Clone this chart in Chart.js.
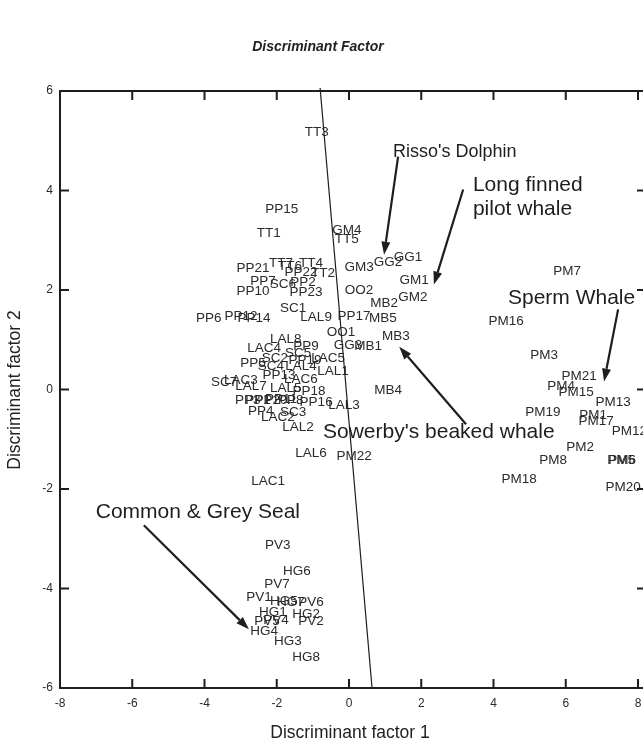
<!DOCTYPE html>
<html>
<head>
<meta charset="utf-8">
<script src="https://cdn.jsdelivr.net/npm/chart.js"></script>
<style>
html, body { margin: 0; padding: 0; background: #fff; }
</style>
</head>
<body>
<canvas id="discChart" width="643" height="744"></canvas>
<script>
// small cetaceans: porpoise, bottlenose, striped/common dolphins, white-sided/beaked
const smallNames = ['PP1','PP2','PP3','PP4','PP5','PP6','PP7','PP8','PP9','PP10','PP11','PP12','PP13','PP14','PP15','PP16','PP17','PP18','PP19','PP20','PP21','PP22','PP23',
  'TT1','TT2','TT3','TT4','TT5','TT6','TT7',
  'SC1','SC2','SC3','SC4','SC5','SC6','SC7',
  'LAL1','LAL2','LAL3','LAL4','LAL5','LAL6','LAL7','LAL8','LAL9',
  'LAC1','LAC2','LAC3','LAC4','LAC5','LAC6'];
const smallX = [-2.52,-1.27,-2.80,-2.44,-2.66,-3.88,-2.38,-1.61,-1.19,-2.66,-1.88,-2.99,-1.94,-2.63,-1.86,-0.91,0.14,-1.11,-1.22,-2.16,-2.66,-1.33,-1.19,
  -2.22,-0.72,-0.89,-1.05,-0.06,-1.63,-1.88,
  -1.55,-2.05,-1.55,-2.16,-1.41,-1.83,-3.46,
  -0.44,-1.41,-0.14,-1.33,-1.75,-1.05,-2.71,-1.75,-0.91,
  -2.24,-1.97,-2.99,-2.35,-0.58,-1.33];
const smallY = [-0.22,2.15,-0.22,-0.44,0.52,1.43,2.17,-0.22,0.86,1.97,-0.20,1.47,0.28,1.43,3.63,-0.26,1.47,-0.04,0.58,-0.22,2.43,2.35,1.95,
  3.15,2.33,5.18,2.53,3.01,2.47,2.53,
  1.63,0.62,-0.46,0.46,0.72,2.11,0.14,
  0.36,-0.76,-0.32,0.46,0.02,-1.29,0.06,1.00,1.45,
  -1.85,-0.56,0.18,0.82,0.62,0.20];

// pilot whales, Risso's dolphins, orcas, Sowerby's beaked whales
const midNames = ['GM1','GM2','GM3','GM4','GG1','GG2','GG3','OO1','OO2','MB1','MB2','MB3','MB4','MB5'];
const midX = [1.80,1.77,0.28,-0.06,1.63,1.08,-0.03,-0.22,0.28,0.53,0.97,1.30,1.08,0.94];
const midY = [2.19,1.85,2.45,3.21,2.65,2.55,0.88,1.16,1.99,0.86,1.73,1.06,-0.02,1.43];

// sperm whales
const spermNames = ['PM1','PM2','PM3','PM4','PM5','PM6','PM7','PM8','PM12','PM13','PM15','PM16','PM17','PM18','PM19','PM20','PM21','PM22'];
const spermX = [6.76,6.40,5.40,5.87,7.53,7.56,6.04,5.65,7.76,7.31,6.29,4.35,6.84,4.71,5.37,7.59,6.37,0.14];
const spermY = [-0.52,-1.16,0.68,0.06,-1.43,-1.43,2.37,-1.43,-0.84,-0.26,-0.06,1.37,-0.64,-1.81,-0.46,-1.97,0.26,-1.35];

// common & grey seals
const sealNames = ['PV1','PV2','PV3','PV4','PV5','PV6','PV7','HG1','HG2','HG3','HG4','HG5','HG6','HG7','HG8'];
const sealX = [-2.49,-1.05,-1.97,-2.02,-2.27,-1.05,-1.99,-2.11,-1.19,-1.69,-2.35,-1.80,-1.44,-1.61,-1.19];
const sealY = [-4.18,-4.66,-3.13,-4.64,-4.66,-4.28,-3.92,-4.48,-4.52,-5.06,-4.86,-4.26,-3.65,-4.28,-5.38];

const xTicks = [-8, -6, -4, -2, 0, 2, 4, 6, 8];
const yTicks = [-6, -4, -2, 0, 2, 4, 6];

// discriminant boundary (two ends, data units)
const boundX = [-0.80, 0.64];
const boundY = [6.06, -6.02];

// group notes: text lines, size, text anchor, arrow start and arrow tip
const noteText = [["Risso's Dolphin"], ['Long finned', 'pilot whale'], ['Sperm Whale'], ["Sowerby's beaked whale"], ['Common & Grey Seal']];
const noteSize = [18, 21, 21, 21, 21];
const noteX = [1.22, 3.43, 4.40, -0.72, -7.01];
const noteY = [4.78, 4.10, 1.83, -0.86, -2.47];
const arrowFrom = [[1.36, 4.68], [3.16, 4.02], [7.45, 1.61], [3.24, -0.70], [-5.68, -2.73]];
const arrowTo = [[0.97, 2.71], [2.35, 2.11], [7.06, 0.16], [1.39, 0.86], [-2.77, -4.82]];

const FONT = "'Liberation Sans', Arial, Helvetica, sans-serif";

function pts(names, xs, ys) {
  return names.map((n, i) => ({x: xs[i], y: ys[i], name: n}));
}

function arrow(ctx, x1, y1, x2, y2) {
  const a = Math.atan2(y2 - y1, x2 - x1);
  const hl = 13, hw = 4.5;
  const bx = x2 - hl * Math.cos(a), by = y2 - hl * Math.sin(a);
  ctx.beginPath();
  ctx.moveTo(x1, y1);
  ctx.lineTo(bx, by);
  ctx.stroke();
  ctx.beginPath();
  ctx.moveTo(x2, y2);
  ctx.lineTo(bx + hw * Math.sin(a), by - hw * Math.cos(a));
  ctx.lineTo(bx - hw * Math.sin(a), by + hw * Math.cos(a));
  ctx.closePath();
  ctx.fill();
}

const drawAll = {
  id: 'drawAll',
  afterDatasetsDraw(chart) {
    const {ctx, chartArea: ca, scales: {x, y}} = chart;
    const W = chart.width;
    ctx.save();

    // point labels
    ctx.font = '13.5px ' + FONT;
    ctx.fillStyle = '#2b2b2b';
    ctx.textAlign = 'center';
    ctx.textBaseline = 'middle';
    chart.data.datasets.forEach((ds, di) => {
      chart.getDatasetMeta(di).data.forEach((el, i) => {
        ctx.fillText(ds.data[i].name, el.x, el.y);
      });
    });

    // frame (right side runs off the page)
    ctx.strokeStyle = '#1e1e1e';
    ctx.lineWidth = 2;
    ctx.beginPath();
    ctx.moveTo(W, ca.top); ctx.lineTo(ca.left, ca.top);
    ctx.lineTo(ca.left, ca.bottom); ctx.lineTo(W, ca.bottom);
    ctx.stroke();

    // inward ticks
    ctx.beginPath();
    xTicks.slice(1).forEach(v => {
      const px = x.getPixelForValue(v);
      ctx.moveTo(px, ca.bottom); ctx.lineTo(px, ca.bottom - 9);
      ctx.moveTo(px, ca.top); ctx.lineTo(px, ca.top + 9);
    });
    yTicks.slice(1, -1).forEach(v => {
      const py = y.getPixelForValue(v);
      ctx.moveTo(ca.left, py); ctx.lineTo(ca.left + 9, py);
      ctx.moveTo(W, py); ctx.lineTo(W - 6, py);
    });
    ctx.stroke();

    // boundary line
    ctx.lineWidth = 1.2;
    ctx.beginPath();
    ctx.moveTo(x.getPixelForValue(boundX[0]), y.getPixelForValue(boundY[0]));
    ctx.lineTo(x.getPixelForValue(boundX[1]), y.getPixelForValue(boundY[1]));
    ctx.stroke();

    // notes and arrows
    ctx.fillStyle = '#1e1e1e';
    ctx.textAlign = 'left';
    noteText.forEach((lines, i) => {
      ctx.font = noteSize[i] + 'px ' + FONT;
      lines.forEach((t, j) => {
        ctx.fillText(t, x.getPixelForValue(noteX[i]), y.getPixelForValue(noteY[i]) + j * 24);
      });
    });
    ctx.lineWidth = 2.2;
    arrowFrom.forEach((f, i) => {
      arrow(ctx, x.getPixelForValue(f[0]), y.getPixelForValue(f[1]),
        x.getPixelForValue(arrowTo[i][0]), y.getPixelForValue(arrowTo[i][1]));
    });

    // titles
    ctx.fillStyle = '#222';
    ctx.textAlign = 'center';
    ctx.font = 'italic bold 14px ' + FONT;
    ctx.fillText('Discriminant Factor', 318, 47);
    ctx.font = '17.5px ' + FONT;
    ctx.fillText('Discriminant factor 1', 350, 733);
    ctx.translate(15, 390);
    ctx.rotate(-Math.PI / 2);
    ctx.fillText('Discriminant factor 2', 0, 0);
    ctx.restore();
  }
};

const axisTicks = {color: '#2b2b2b', font: {size: 12, family: FONT}, maxRotation: 0, autoSkip: false};

new Chart(document.getElementById('discChart'), {
  type: 'scatter',
  data: {
    datasets: [
      {label: 'small', data: pts(smallNames, smallX, smallY)},
      {label: 'mid', data: pts(midNames, midX, midY)},
      {label: 'sperm', data: pts(spermNames, spermX, spermY)},
      {label: 'seal', data: pts(sealNames, sealX, sealY)}
    ].map(d => Object.assign(d, {pointRadius: 0, pointHoverRadius: 0}))
  },
  options: {
    responsive: false,
    animation: false,
    layout: {padding: {top: 91, right: 5, left: 0, bottom: 0}},
    plugins: {legend: {display: false}, tooltip: {enabled: false}},
    scales: {
      x: {
        type: 'linear', min: -8, max: 8,
        afterBuildTicks: s => { s.ticks = xTicks.map(v => ({value: v})); },
        ticks: Object.assign({padding: 8}, axisTicks),
        grid: {display: false, drawTicks: false},
        border: {display: false},
        afterFit: s => { s.height = 56; s.paddingLeft = 0; s.paddingRight = 0; }
      },
      y: {
        type: 'linear', min: -6, max: 6,
        afterBuildTicks: s => { s.ticks = yTicks.map(v => ({value: v})); },
        ticks: Object.assign({padding: 7}, axisTicks),
        grid: {display: false, drawTicks: false},
        border: {display: false},
        afterFit: s => { s.width = 60; s.paddingTop = 0; s.paddingBottom = 0; }
      }
    }
  },
  plugins: [drawAll]
});
</script>
</body>
</html>
